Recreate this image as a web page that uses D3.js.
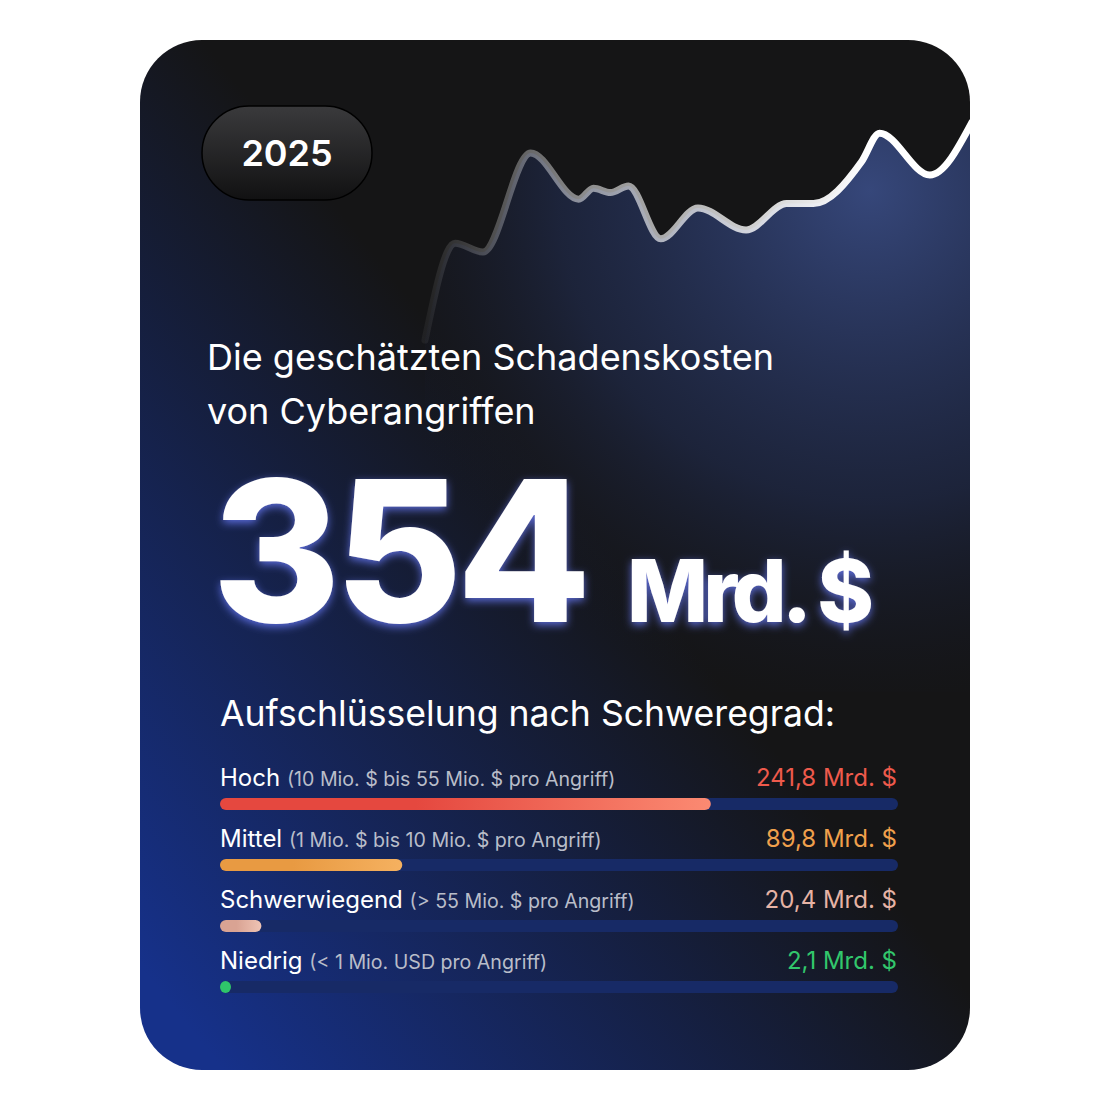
<!DOCTYPE html>
<html><head><meta charset="utf-8">
<script src="https://cdn.jsdelivr.net/npm/d3@7"></script>
<style>body{margin:0;background:#fff}svg{display:block;font-family:Inter,sans-serif}</style>
</head><body>
<div id="chart"></div>
<script>
// Linienverlauf oben (x 0..100, Wert 0..100)
const trendX = [0, 5.5, 10.6, 19.3, 28.1, 30.8, 33.9, 37.2, 43.1, 49.9, 58.7, 66.1, 71.0, 79.8, 83.1, 92.3, 100];
const trendY = [0, 44, 40, 85, 64, 69, 67, 70, 46, 60, 50, 62, 62, 81, 94, 75, 99];

const categories = ["Hoch", "Mittel", "Schwerwiegend", "Niedrig"];
const ranges = ["(10 Mio. $ bis 55 Mio. $ pro Angriff)", "(1 Mio. $ bis 10 Mio. $ pro Angriff)", "(> 55 Mio. $ pro Angriff)", "(< 1 Mio. USD pro Angriff)"];
const values = [241.8, 89.8, 20.4, 2.1];
const valueLabels = ["241,8 Mrd. $", "89,8 Mrd. $", "20,4 Mrd. $", "2,1 Mrd. $"];
const colors = [["#e5483f", "#fb8a72"], ["#e89a42", "#f5b160"], ["#d9a393", "#efc4b5"], ["#2fc56a", "#2fc56a"]];
const textColors = ["#ee5a4c", "#f0a04c", "#e6b3a5", "#32c76c"];

const W = 1110, H = 1110;
const svg = d3.select("#chart").append("svg").attr("width", W).attr("height", H);
const defs = svg.append("defs");

const bg = defs.append("linearGradient").attr("id", "bg").attr("x1", 0.75).attr("y1", 0.35).attr("x2", 0.1).attr("y2", 1);
bg.append("stop").attr("offset", 0.25).attr("stop-color", "#151516");
bg.append("stop").attr("offset", 1).attr("stop-color", "#16318a");

const glow = defs.append("radialGradient").attr("id", "glow").attr("gradientUnits", "userSpaceOnUse")
    .attr("cx", 870).attr("cy", 190).attr("r", 520);
glow.append("stop").attr("offset", 0).attr("stop-color", "#36477a").attr("stop-opacity", 1);
glow.append("stop").attr("offset", 0.6).attr("stop-color", "#24325e").attr("stop-opacity", 0.5);
glow.append("stop").attr("offset", 1).attr("stop-color", "#151a30").attr("stop-opacity", 0);

const lineGrad = defs.append("linearGradient").attr("id", "lineGrad").attr("gradientUnits", "userSpaceOnUse")
    .attr("x1", 425).attr("y1", 0).attr("x2", 870).attr("y2", 0);
lineGrad.append("stop").attr("offset", 0).attr("stop-color", "#fff").attr("stop-opacity", 0.05);
lineGrad.append("stop").attr("offset", 0.35).attr("stop-color", "#fff").attr("stop-opacity", 0.5);
lineGrad.append("stop").attr("offset", 1).attr("stop-color", "#fff").attr("stop-opacity", 1);

const pill = defs.append("linearGradient").attr("id", "pill").attr("x1", 0).attr("y1", 0).attr("x2", 0).attr("y2", 1);
pill.append("stop").attr("offset", 0).attr("stop-color", "#3a3a3c");
pill.append("stop").attr("offset", 1).attr("stop-color", "#111112");

const shadow = defs.append("filter").attr("id", "bigGlow").attr("x", "-20%").attr("y", "-20%").attr("width", "140%").attr("height", "140%");
shadow.append("feDropShadow").attr("dx", 0).attr("dy", 3).attr("stdDeviation", 4).attr("flood-color", "#6a7dff").attr("flood-opacity", 0.8);

defs.append("clipPath").attr("id", "card").append("rect")
    .attr("x", 140).attr("y", 40).attr("width", 830).attr("height", 1030).attr("rx", 62);

const card = svg.append("g").attr("clip-path", "url(#card)");
card.append("rect").attr("x", 140).attr("y", 40).attr("width", 830).attr("height", 1030).attr("fill", "url(#bg)");

// Trend
const x = d3.scaleLinear().domain([0, 100]).range([425, 972]);
const y = d3.scaleLinear().domain([0, 100]).range([340, 120]);
const pts = trendX.map((v, i) => [v, trendY[i]]);
const area = d3.area().x(d => x(d[0])).y0(y(-160)).y1(d => y(d[1])).curve(d3.curveMonotoneX);
const line = d3.line().x(d => x(d[0])).y(d => y(d[1])).curve(d3.curveMonotoneX);
card.append("path").datum(pts).attr("d", area).attr("fill", "url(#glow)");
card.append("path").datum(pts).attr("d", line).attr("fill", "none")
    .attr("stroke", "url(#lineGrad)").attr("stroke-width", 7).attr("stroke-linejoin", "round").attr("stroke-linecap", "round");

// Jahr
svg.append("rect").attr("x", 202).attr("y", 106).attr("width", 170).attr("height", 94).attr("rx", 47)
    .attr("fill", "url(#pill)").attr("stroke", "#000").attr("stroke-width", 1.5);
svg.append("text").attr("x", 287).attr("y", 166).attr("text-anchor", "middle")
    .attr("fill", "#fff").attr("font-size", 36).attr("font-weight", 600).text("2025");

// Titel
svg.append("text").attr("x", 207).attr("y", 370).attr("fill", "#fff").attr("font-size", 36).text("Die geschätzten Schadenskosten");
svg.append("text").attr("x", 207).attr("y", 424).attr("fill", "#fff").attr("font-size", 36).text("von Cyberangriffen");

svg.append("text").attr("x", 212).attr("y", 622).attr("fill", "#fff").attr("font-size", 196).attr("font-weight", 800)
    .attr("letter-spacing", -6).attr("filter", "url(#bigGlow)").text("354");
svg.append("text").attr("x", 627).attr("y", 622).attr("fill", "#fff").attr("font-size", 86).attr("font-weight", 800)
    .attr("letter-spacing", -5).attr("filter", "url(#bigGlow)").text("Mrd. $");

svg.append("text").attr("x", 220).attr("y", 726).attr("fill", "#fff").attr("font-size", 35.6).text("Aufschlüsselung nach Schweregrad:");

// Balken
const bx = d3.scaleLinear().domain([0, 334]).range([0, 678]);
const rowY = d3.scaleBand().domain(categories).range([786, 1030]).paddingInner(0);
const rows = svg.selectAll("g.row").data(categories).join("g").attr("class", "row")
    .attr("transform", d => `translate(0,${rowY(d)})`);

colors.forEach((c, i) => {
    const g = defs.append("linearGradient").attr("id", "bar" + i).attr("x1", 0).attr("x2", 1);
    g.append("stop").attr("offset", 0.4).attr("stop-color", c[0]);
    g.append("stop").attr("offset", 1).attr("stop-color", c[1]);
});

const t = rows.append("text").attr("x", 220).attr("y", 0).attr("fill", "#fff").attr("font-size", 24);
t.append("tspan").text(d => d + " ");
t.append("tspan").attr("fill", "#b9bdc9").attr("font-size", 19.6).text((d, i) => ranges[i]);
rows.append("text").attr("x", 897).attr("text-anchor", "end").attr("font-size", 24)
    .attr("fill", (d, i) => textColors[i]).text((d, i) => valueLabels[i]);
rows.append("rect").attr("x", 220).attr("y", 12).attr("width", 678).attr("height", 12).attr("rx", 6).attr("fill", "#172a66");
rows.append("rect").attr("x", 220).attr("y", 12).attr("height", 12).attr("rx", 6)
    .attr("width", (d, i) => Math.max(11, bx(values[i]))).attr("fill", (d, i) => `url(#bar${i})`);
</script>
</body></html>
